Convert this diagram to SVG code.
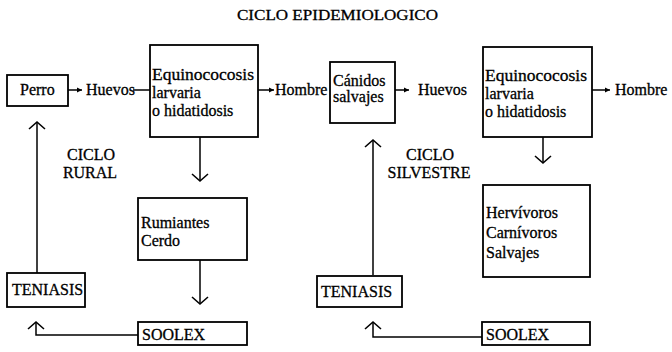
<svg xmlns="http://www.w3.org/2000/svg" width="672" height="352" viewBox="0 0 672 352">
<style>
text{font-family:"Liberation Serif","Times New Roman",serif;font-size:16px;fill:#000;stroke:#000;stroke-width:0.3}
.box{fill:#fff;stroke:#000;stroke-width:1.8}
.ln{fill:none;stroke:#000;stroke-width:1.5}
.mid{text-anchor:middle}
</style>
<defs>
<marker id="chev" markerUnits="userSpaceOnUse" viewBox="-10 -10 12 20" refX="0" refY="0" markerWidth="12" markerHeight="20" orient="auto" overflow="visible">
<path d="M-7,-8 L0,0 L-7,8" fill="none" stroke="#000" stroke-width="1.6"/>
</marker>
<marker id="tri" markerUnits="userSpaceOnUse" viewBox="-6 -3 7 6" refX="0" refY="0" markerWidth="7" markerHeight="6" orient="auto" overflow="visible">
<path d="M0,0 L-5,-2.5 L-5,2.5 z" fill="#000"/>
</marker>
</defs>
<rect width="672" height="352" fill="#fff"/>
<text id="title" x="237" y="20" textLength="201" lengthAdjust="spacingAndGlyphs" style="font-size:15px">CICLO EPIDEMIOLOGICO</text>

<g id="connectors">
<line class="ln" x1="68" y1="90" x2="82" y2="90" marker-end="url(#tri)"/>
<line class="ln" x1="133" y1="90" x2="150" y2="90"/>
<line class="ln" x1="258" y1="90" x2="274" y2="90" marker-end="url(#tri)"/>
<line class="ln" x1="200" y1="137" x2="200" y2="181" marker-end="url(#chev)"/>
<line class="ln" x1="200" y1="260" x2="200" y2="304" marker-end="url(#chev)"/>
<polyline class="ln" points="138,335 36,335 36,322" marker-end="url(#chev)"/>
<line class="ln" x1="37" y1="273" x2="37" y2="122" marker-end="url(#chev)"/>
<line class="ln" x1="395" y1="90" x2="409" y2="90" marker-end="url(#tri)"/>
<line class="ln" x1="592" y1="90" x2="610" y2="90" marker-end="url(#tri)"/>
<line class="ln" x1="543" y1="137" x2="543" y2="163" marker-end="url(#chev)"/>
<line class="ln" x1="373" y1="275" x2="373" y2="140" marker-end="url(#chev)"/>
<polyline class="ln" points="482,337 373,337 373,322" marker-end="url(#chev)"/>
</g>

<g id="perro"><rect class="box" x="7" y="75" width="61" height="31"/><text x="20" y="95">Perro</text></g>
<g id="huevos1"><text x="86" y="95">Huevos</text></g>
<g id="equino1"><rect class="box" x="150" y="45" width="108" height="92"/>
<text x="152" y="80" textLength="102" lengthAdjust="spacingAndGlyphs">Equinococosis</text><text x="152" y="98">larvaria</text><text x="152" y="116">o hidatidosis</text></g>
<g id="hombre1"><text x="275" y="95">Hombre</text></g>
<g id="rural"><text class="mid" x="91" y="160">CICLO</text><text class="mid" x="90" y="178">RURAL</text></g>
<g id="rumiantes"><rect class="box" x="138" y="198" width="109" height="62"/>
<text x="141" y="228">Rumiantes</text><text x="141" y="246">Cerdo</text></g>
<g id="teniasis1"><rect class="box" x="7" y="273" width="78" height="34"/><text x="12" y="295">TENIASIS</text></g>
<g id="soolex1"><rect class="box" x="138" y="322" width="109" height="23"/><text x="142" y="340">SOOLEX</text></g>

<g id="canidos"><rect class="box" x="330" y="62" width="65" height="61"/>
<text x="333" y="86">Cánidos</text><text x="333" y="102">salvajes</text></g>
<g id="huevos2"><text x="418" y="95">Huevos</text></g>
<g id="equino2"><rect class="box" x="483" y="47" width="109" height="90"/>
<text x="485" y="81" textLength="102" lengthAdjust="spacingAndGlyphs">Equinococosis</text><text x="485" y="99">larvaria</text><text x="485" y="117">o hidatidosis</text></g>
<g id="hombre2"><text x="615" y="95">Hombre</text></g>
<g id="silvestre"><text class="mid" x="430" y="160">CICLO</text><text class="mid" x="429" y="178">SILVESTRE</text></g>
<g id="hervivoros"><rect class="box" x="483" y="185" width="107" height="92"/>
<text x="486" y="218">Hervívoros</text><text x="486" y="238">Carnívoros</text><text x="486" y="258">Salvajes</text></g>
<g id="teniasis2"><rect class="box" x="317" y="276" width="85" height="31"/><text x="321" y="297">TENIASIS</text></g>
<g id="soolex2"><rect class="box" x="482" y="322" width="108" height="23"/><text x="486" y="340">SOOLEX</text></g>
</svg>
